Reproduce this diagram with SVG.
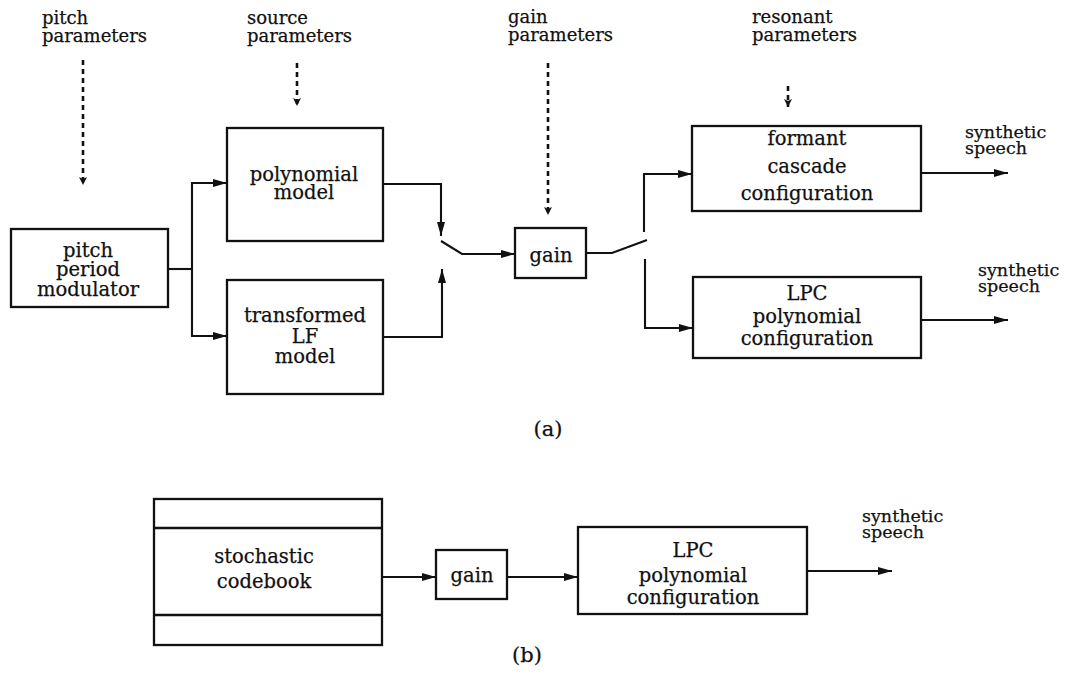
<svg xmlns="http://www.w3.org/2000/svg" width="1070" height="686" viewBox="0 0 1070 686">
  <style>
    .box { fill: none; stroke: #111; stroke-width: 2.3; }
    .wire { fill: none; stroke: #111; stroke-width: 2.1; }
    .ctl { fill: none; stroke: #111; stroke-width: 2.6; stroke-dasharray: 5 4; }
    text { font-family: "DejaVu Serif", "Liberation Serif", serif; fill: #111; stroke: #111; stroke-width: 0.25; }
    .lbl { font-size: 18px; }
    .in { font-size: 19.5px; text-anchor: middle; }
    .out { font-size: 17.5px; }
    .cap { font-size: 21px; text-anchor: middle; }
  </style>
  <defs>
    <marker id="arr" markerUnits="userSpaceOnUse" markerWidth="15" markerHeight="10" refX="14" refY="5" orient="auto">
      <path d="M0,1 L14,5 L0,9 Z" fill="#111"/>
    </marker>
    <marker id="carr" markerUnits="userSpaceOnUse" markerWidth="10" markerHeight="10" refX="8" refY="4" orient="auto">
      <path d="M0,0 L8,4 L0,8 L2,4 Z" fill="#111"/>
    </marker>
  </defs>

  <rect width="1070" height="686" fill="#fff"/>

  <!-- parameter labels -->
  <g id="labels">
    <text class="lbl" x="42" y="24">pitch<tspan x="42" dy="18">parameters</tspan></text>
    <text class="lbl" x="247" y="24">source<tspan x="247" dy="18">parameters</tspan></text>
    <text class="lbl" x="508" y="23">gain<tspan x="508" dy="18">parameters</tspan></text>
    <text class="lbl" x="752" y="23">resonant<tspan x="752" dy="18">parameters</tspan></text>
  </g>

  <!-- (a) pulse excited synthesiser -->
  <g id="pitch-modulator">
    <rect class="box" x="11" y="229" width="157" height="78"/>
    <text class="in" x="88" y="257">pitch<tspan x="88" dy="19">period</tspan><tspan x="88" dy="20">modulator</tspan></text>
  </g>
  <g id="polynomial-model">
    <rect class="box" x="227" y="128" width="156" height="113"/>
    <text class="in" x="304" y="181">polynomial<tspan x="304" dy="18">model</tspan></text>
  </g>
  <g id="lf-model">
    <rect class="box" x="227" y="280" width="156" height="114"/>
    <text class="in" x="305" y="322">transformed<tspan x="305" dy="21">LF</tspan><tspan x="305" dy="20">model</tspan></text>
  </g>
  <g id="gain-a">
    <rect class="box" x="515" y="228" width="71" height="50"/>
    <text class="in" x="551" y="262">gain</text>
  </g>
  <g id="formant-cascade">
    <rect class="box" x="692" y="126" width="229" height="85"/>
    <text class="in" x="807" y="145">formant<tspan x="807" dy="28">cascade</tspan><tspan x="807" dy="27">configuration</tspan></text>
  </g>
  <g id="lpc-a">
    <rect class="box" x="693" y="277" width="228" height="81"/>
    <text class="in" x="807" y="300">LPC<tspan x="807" dy="23">polynomial</tspan><tspan x="807" dy="22">configuration</tspan></text>
  </g>
  <g id="outputs-a">
    <text class="out" x="965" y="138">synthetic<tspan x="965" dy="16">speech</tspan></text>
    <text class="out" x="978" y="276">synthetic<tspan x="978" dy="16">speech</tspan></text>
  </g>
  <text class="cap" x="548" y="436">(a)</text>

  <!-- (b) code excited synthesiser -->
  <g id="codebook">
    <rect class="box" x="154" y="499" width="228" height="146"/>
    <line class="box" x1="154" y1="528" x2="382" y2="528"/>
    <line class="box" x1="154" y1="615" x2="382" y2="615"/>
    <text class="in" x="264" y="563">stochastic<tspan x="264" dy="25">codebook</tspan></text>
  </g>
  <g id="gain-b">
    <rect class="box" x="436" y="550" width="71" height="49"/>
    <text class="in" x="472" y="582">gain</text>
  </g>
  <g id="lpc-b">
    <rect class="box" x="578" y="527" width="229" height="87"/>
    <text class="in" x="693" y="557">LPC<tspan x="693" dy="25">polynomial</tspan><tspan x="693" dy="22">configuration</tspan></text>
  </g>
  <g id="output-b">
    <text class="out" x="862" y="522">synthetic<tspan x="862" dy="16">speech</tspan></text>
  </g>
  <text class="cap" x="527" y="662">(b)</text>

  <!-- connectors -->
  <g id="connectors">
    <!-- control inputs -->
    <line class="ctl" x1="83" y1="60" x2="83" y2="185" marker-end="url(#carr)"/>
    <line class="ctl" x1="297" y1="63" x2="297" y2="106" marker-end="url(#carr)"/>
    <line class="ctl" x1="548" y1="63" x2="548" y2="215" marker-end="url(#carr)"/>
    <line class="ctl" x1="788" y1="86" x2="788" y2="107" marker-end="url(#carr)"/>

    <!-- modulator fan-out -->
    <polyline class="wire" points="168,269 192,269"/>
    <polyline class="wire" points="192,269 192,183 227,183" marker-end="url(#arr)"/>
    <polyline class="wire" points="192,269 192,336 227,336" marker-end="url(#arr)"/>

    <!-- source selector -->
    <polyline class="wire" points="383,184 441,184 441,236" marker-end="url(#arr)"/>
    <polyline class="wire" points="383,337 442,337 442,269" marker-end="url(#arr)"/>
    <polyline class="wire" points="441,241 462,254 515,254" marker-end="url(#arr)"/>

    <!-- filter selector -->
    <polyline class="wire" points="586,253 612,253 647,240"/>
    <polyline class="wire" points="644,232 644,174 692,174" marker-end="url(#arr)"/>
    <polyline class="wire" points="645,259 645,328 693,328" marker-end="url(#arr)"/>

    <!-- synthetic speech outputs -->
    <line class="wire" x1="921" y1="173" x2="1008" y2="173" marker-end="url(#arr)"/>
    <line class="wire" x1="921" y1="320" x2="1008" y2="320" marker-end="url(#arr)"/>

    <!-- (b) chain -->
    <line class="wire" x1="382" y1="577" x2="436" y2="577" marker-end="url(#arr)"/>
    <line class="wire" x1="507" y1="577" x2="578" y2="577" marker-end="url(#arr)"/>
    <line class="wire" x1="807" y1="571" x2="892" y2="571" marker-end="url(#arr)"/>
  </g>
</svg>
